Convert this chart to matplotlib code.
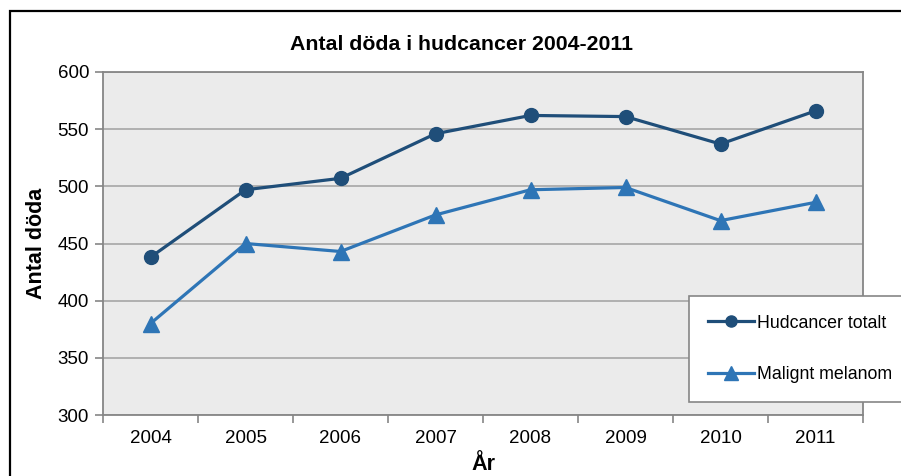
import matplotlib.pyplot as plt
from matplotlib.patches import Rectangle

plt.rcParams['font.family'] = ['Liberation Sans', 'DejaVu Sans']

years = ['2004', '2005', '2006', '2007', '2008', '2009', '2010', '2011']
hudcancer_totalt = [438, 497, 507, 546, 562, 561, 537, 566]
malignt_melanom = [380, 450, 443, 475, 497, 499, 470, 486]

W, H = 901, 476
fig = plt.figure(figsize=(W / 100, H / 100), dpi=100)
ax = fig.add_axes([103 / W, 1 - 415 / H, (863 - 103) / W, (415 - 72) / H])

x = list(range(len(years)))
ax.plot(x, hudcancer_totalt, color='#1F4E79', lw=2.3, marker='o', ms=10,
        label='Hudcancer totalt', zorder=3)
ax.plot(x, malignt_melanom, color='#2E75B6', lw=2.3, marker='^', ms=12,
        label='Malignt melanom', zorder=3)

ax.set_facecolor('#EBEBEB')
ax.set_xlim(-0.5, 7.5)
ax.set_ylim(300, 600)
ax.set_yticks(range(300, 601, 50))
ax.grid(True, 'major', 'y', color='#A6A6A6', lw=1.2)
ax.set_axisbelow(True)

# boundaries as major ticks, labels on minor ticks at category centres
ax.set_xticks([i - 0.5 for i in range(len(years) + 1)])
ax.set_xticklabels([])
ax.set_xticks(x, minor=True)
ax.set_xticklabels(years, minor=True)
ax.tick_params(axis='x', which='major', length=6, width=1.2, color='#868686')
ax.tick_params(axis='x', which='minor', length=0, labelsize=13.5, pad=11)
ax.tick_params(axis='y', length=6, width=1.2, color='#868686', labelsize=13.5, pad=4)

for s in ax.spines.values():
    s.set_color('#868686')
    s.set_linewidth(1.3)

fig.text(461 / W, 1 - 45 / H, 'Antal döda i hudcancer 2004-2011', ha='center', va='center',
         fontsize=15.3, fontweight='bold')
fig.text(37 / W, 1 - 243 / H, 'Antal döda', rotation=90, ha='center', va='center',
         fontsize=15.5, fontweight='bold')
fig.text(483 / W, 1 - 465 / H, 'År', ha='center', va='center', fontsize=15.5, fontweight='bold')

leg = ax.legend(loc='upper left', bbox_to_anchor=(689 / W, 1 - 296 / H),
                bbox_transform=fig.transFigure, fontsize=12.8, frameon=True, fancybox=False,
                edgecolor='#868686', framealpha=1, borderpad=1.05, labelspacing=1.95,
                handlelength=2.6, handletextpad=0.2, borderaxespad=0, markerscale=0.8)
leg.get_frame().set_linewidth(1.2)

fig.patches.append(Rectangle((10 / W, -0.1), 1.2, 1.1 - 11 / H, transform=fig.transFigure,
                             fill=False, edgecolor='black', lw=1.6))

fig.savefig('out.png', dpi=100)
